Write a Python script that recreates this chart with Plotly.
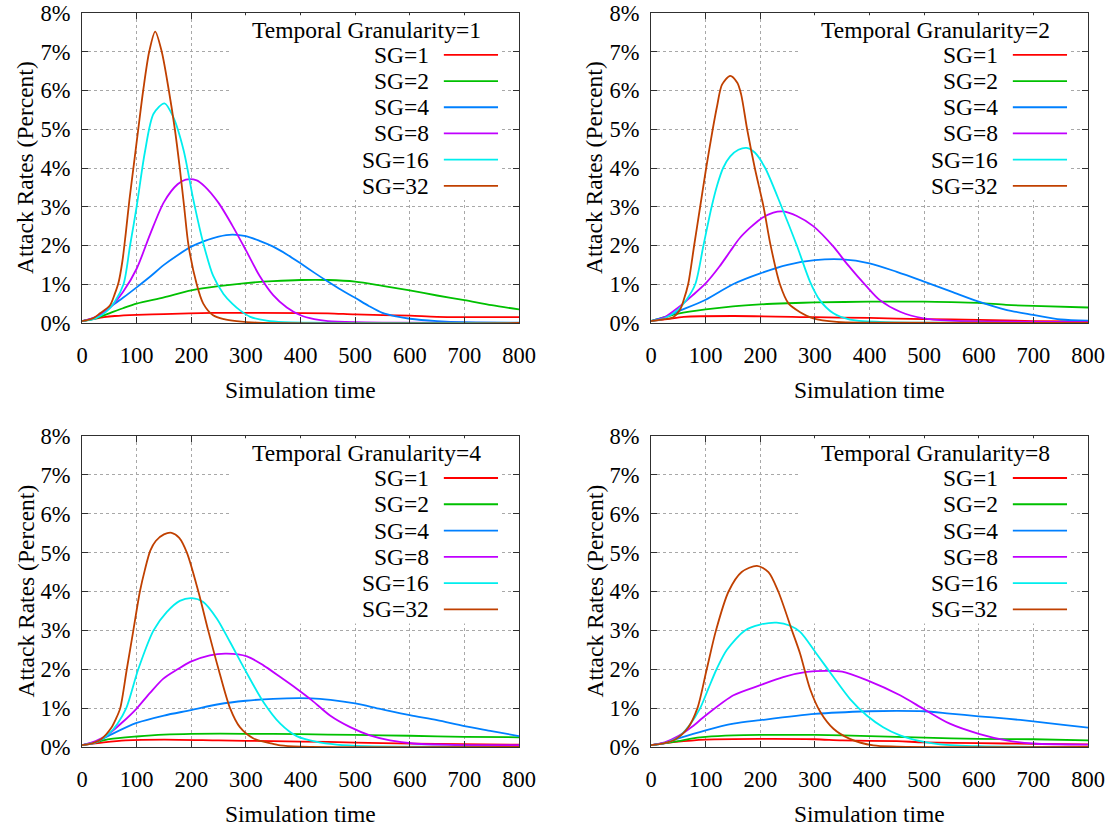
import plotly.graph_objects as go

# ---------------- data: attack rate (%) vs. simulation time ----------------
SG_LABELS = ["SG=1", "SG=2", "SG=4", "SG=8", "SG=16", "SG=32"]
SG_COLORS = ["#ff0000", "#00c000", "#0080ff", "#c000ff", "#00eeee", "#c04000"]
TG_TITLES = ["Temporal Granularity=1", "Temporal Granularity=2",
             "Temporal Granularity=4", "Temporal Granularity=8"]

# Temporal Granularity = 1
TG1_SG1_X = [0, 20, 40, 60, 100, 150, 240, 300, 450, 500, 600, 650, 800]
TG1_SG1_Y = [0.05, 0.10, 0.15, 0.18, 0.21, 0.23, 0.26, 0.26, 0.25, 0.22, 0.19, 0.16, 0.15]
TG1_SG2_X = [0, 25, 50, 75, 100, 150, 200, 250, 300, 350, 400, 450, 500, 550, 600, 650, 700, 750, 800]
TG1_SG2_Y = [0.05, 0.12, 0.25, 0.38, 0.50, 0.66, 0.84, 0.95, 1.03, 1.08, 1.11, 1.11, 1.07, 0.96, 0.84, 0.71, 0.59, 0.46, 0.35]
TG1_SG4_X = [0, 25, 50, 75, 100, 125, 150, 175, 200, 225, 250, 275, 300, 325, 350, 375, 400, 425, 450, 475, 500, 525, 550, 575, 600, 650, 700, 800]
TG1_SG4_Y = [0.05, 0.15, 0.40, 0.65, 0.92, 1.20, 1.50, 1.75, 1.97, 2.12, 2.23, 2.28, 2.24, 2.12, 1.97, 1.77, 1.54, 1.30, 1.07, 0.85, 0.65, 0.44, 0.26, 0.17, 0.11, 0.05, 0.02, 0.01]
TG1_SG8_X = [0, 25, 50, 75, 100, 125, 150, 175, 190, 210, 225, 250, 275, 300, 325, 350, 375, 400, 425, 450, 500, 550, 800]
TG1_SG8_Y = [0.05, 0.15, 0.38, 0.80, 1.40, 2.30, 3.12, 3.58, 3.70, 3.68, 3.52, 3.10, 2.52, 1.88, 1.22, 0.72, 0.40, 0.20, 0.10, 0.05, 0.02, 0.01, 0.0]
TG1_SG16_X = [0, 25, 45, 60, 76, 88, 100, 115, 131, 151, 167, 186, 204, 222, 240, 259, 275, 290, 308, 338, 370, 420, 500, 800]
TG1_SG16_Y = [0.05, 0.12, 0.30, 0.55, 1.00, 2.00, 3.00, 4.40, 5.40, 5.67, 5.32, 4.46, 3.17, 2.06, 1.22, 0.75, 0.50, 0.32, 0.16, 0.06, 0.02, 0.01, 0.0, 0.0]
TG1_SG32_X = [0, 20, 33, 51, 60, 67, 74, 80, 87, 95, 103, 112, 123, 134, 146, 159, 170, 179, 187, 195, 210, 222, 240, 260, 283, 320, 800]
TG1_SG32_Y = [0.05, 0.12, 0.25, 0.45, 0.75, 1.05, 1.60, 2.30, 3.20, 4.10, 5.00, 6.00, 7.00, 7.52, 7.00, 6.00, 5.00, 4.00, 3.00, 2.00, 1.00, 0.50, 0.20, 0.10, 0.05, 0.01, 0.0]

# Temporal Granularity = 2
TG2_SG1_X = [0, 30, 60, 150, 300, 400, 500, 600, 700, 800]
TG2_SG1_Y = [0.05, 0.10, 0.16, 0.18, 0.15, 0.13, 0.10, 0.08, 0.05, 0.04]
TG2_SG2_X = [0, 25, 50, 100, 150, 200, 250, 300, 400, 500, 550, 600, 650, 700, 800]
TG2_SG2_Y = [0.05, 0.15, 0.24, 0.35, 0.43, 0.48, 0.51, 0.53, 0.55, 0.55, 0.54, 0.52, 0.47, 0.44, 0.40]
TG2_SG4_X = [0, 25, 50, 100, 150, 200, 250, 300, 350, 400, 450, 500, 550, 600, 650, 700, 750, 800]
TG2_SG4_Y = [0.05, 0.15, 0.30, 0.60, 1.00, 1.28, 1.50, 1.62, 1.64, 1.54, 1.32, 1.07, 0.81, 0.55, 0.34, 0.21, 0.09, 0.06]
TG2_SG8_X = [0, 25, 50, 75, 100, 125, 145, 163, 200, 224, 242, 267, 297, 334, 358, 395, 419, 456, 499, 547, 600, 800]
TG2_SG8_Y = [0.05, 0.15, 0.40, 0.70, 1.02, 1.45, 1.85, 2.20, 2.68, 2.85, 2.88, 2.76, 2.50, 1.97, 1.54, 0.94, 0.59, 0.29, 0.12, 0.06, 0.04, 0.02]
TG2_SG16_X = [0, 25, 50, 65, 81, 96, 111, 121, 132, 145, 160, 175, 190, 209, 239, 267, 291, 309, 334, 364, 419, 500, 800]
TG2_SG16_Y = [0.05, 0.12, 0.35, 0.60, 1.00, 2.00, 3.00, 3.55, 4.00, 4.30, 4.47, 4.52, 4.40, 4.00, 3.00, 2.00, 1.07, 0.59, 0.25, 0.09, 0.03, 0.01, 0.0]
TG2_SG32_X = [0, 25, 41, 53, 60, 68, 79, 90, 101, 113, 121, 130, 145, 158, 165, 176, 190, 206, 219, 236, 252, 273, 297, 340, 400, 800]
TG2_SG32_Y = [0.05, 0.10, 0.15, 0.34, 0.60, 1.00, 2.00, 3.00, 4.00, 5.00, 5.60, 6.15, 6.38, 6.20, 5.90, 5.00, 4.00, 3.00, 2.00, 1.00, 0.50, 0.28, 0.12, 0.03, 0.01, 0.0]

# Temporal Granularity = 4
TG4_SG1_X = [0, 40, 80, 150, 250, 350, 450, 550, 650, 800]
TG4_SG1_Y = [0.05, 0.12, 0.17, 0.19, 0.17, 0.15, 0.13, 0.10, 0.08, 0.06]
TG4_SG2_X = [0, 25, 50, 100, 150, 200, 300, 400, 500, 600, 700, 800]
TG4_SG2_Y = [0.05, 0.12, 0.20, 0.27, 0.32, 0.34, 0.34, 0.33, 0.31, 0.29, 0.26, 0.25]
TG4_SG4_X = [0, 25, 50, 100, 150, 200, 250, 300, 350, 420, 455, 500, 546, 600, 650, 700, 750, 800]
TG4_SG4_Y = [0.05, 0.12, 0.30, 0.62, 0.81, 0.95, 1.10, 1.19, 1.24, 1.25, 1.21, 1.12, 0.98, 0.82, 0.69, 0.54, 0.41, 0.28]
TG4_SG8_X = [0, 25, 50, 75, 100, 125, 149, 175, 198, 234, 265, 302, 332, 363, 393, 421, 454, 491, 527, 564, 607, 700, 800]
TG4_SG8_Y = [0.05, 0.15, 0.35, 0.65, 0.99, 1.40, 1.76, 2.00, 2.19, 2.36, 2.40, 2.33, 2.10, 1.80, 1.50, 1.20, 0.81, 0.51, 0.30, 0.17, 0.09, 0.05, 0.05]
TG4_SG16_X = [0, 25, 50, 65, 81, 103, 131, 155, 179, 201, 222, 247, 271, 299, 332, 363, 393, 430, 466, 520, 600, 800]
TG4_SG16_Y = [0.05, 0.12, 0.35, 0.60, 1.00, 2.00, 3.00, 3.47, 3.76, 3.83, 3.73, 3.30, 2.70, 1.97, 1.16, 0.60, 0.28, 0.13, 0.06, 0.02, 0.01, 0.0]
TG4_SG32_X = [0, 20, 35, 54, 62, 70, 82, 94, 106, 115, 125, 135, 150, 164, 178, 192, 213, 231, 250, 271, 289, 314, 344, 363, 400, 800]
TG4_SG32_Y = [0.05, 0.10, 0.20, 0.50, 0.72, 1.00, 2.00, 3.00, 4.00, 4.55, 5.05, 5.30, 5.47, 5.51, 5.38, 5.00, 4.00, 3.00, 2.00, 1.00, 0.51, 0.22, 0.10, 0.04, 0.01, 0.0]

# Temporal Granularity = 8
TG8_SG1_X = [0, 45, 100, 200, 300, 350, 450, 500, 600, 700, 800]
TG8_SG1_Y = [0.05, 0.13, 0.19, 0.21, 0.20, 0.17, 0.15, 0.12, 0.10, 0.08, 0.07]
TG8_SG2_X = [0, 25, 50, 71, 100, 151, 200, 300, 400, 500, 600, 700, 800]
TG8_SG2_Y = [0.05, 0.10, 0.15, 0.21, 0.26, 0.30, 0.31, 0.31, 0.28, 0.24, 0.21, 0.20, 0.17]
TG8_SG4_X = [0, 25, 50, 100, 151, 200, 300, 400, 450, 500, 547, 600, 651, 700, 755, 800]
TG8_SG4_Y = [0.05, 0.10, 0.22, 0.43, 0.60, 0.69, 0.85, 0.92, 0.93, 0.92, 0.86, 0.79, 0.73, 0.66, 0.57, 0.50]
TG8_SG8_X = [0, 25, 50, 75, 100, 151, 200, 242, 285, 320, 350, 395, 456, 500, 547, 600, 651, 700, 800]
TG8_SG8_Y = [0.05, 0.12, 0.28, 0.52, 0.81, 1.33, 1.59, 1.80, 1.93, 1.96, 1.94, 1.72, 1.33, 0.97, 0.60, 0.34, 0.17, 0.09, 0.06]
TG8_SG16_X = [0, 25, 50, 70, 90, 105, 120, 139, 172, 200, 230, 255, 273, 303, 334, 364, 395, 425, 456, 493, 529, 600, 800]
TG8_SG16_Y = [0.05, 0.10, 0.25, 0.55, 1.00, 1.50, 2.00, 2.50, 3.00, 3.15, 3.20, 3.12, 2.96, 2.40, 1.80, 1.24, 0.81, 0.51, 0.30, 0.15, 0.07, 0.02, 0.0]
TG8_SG32_X = [0, 25, 45, 68, 85, 102, 119, 142, 166, 194, 215, 233, 258, 273, 291, 310, 334, 364, 407, 450, 800]
TG8_SG32_Y = [0.05, 0.10, 0.20, 0.50, 1.00, 2.00, 3.00, 4.00, 4.50, 4.66, 4.50, 4.00, 3.00, 2.40, 1.50, 0.90, 0.47, 0.21, 0.04, 0.01, 0.0]

PANELS = [
    [(TG1_SG1_X, TG1_SG1_Y), (TG1_SG2_X, TG1_SG2_Y), (TG1_SG4_X, TG1_SG4_Y),
     (TG1_SG8_X, TG1_SG8_Y), (TG1_SG16_X, TG1_SG16_Y), (TG1_SG32_X, TG1_SG32_Y)],
    [(TG2_SG1_X, TG2_SG1_Y), (TG2_SG2_X, TG2_SG2_Y), (TG2_SG4_X, TG2_SG4_Y),
     (TG2_SG8_X, TG2_SG8_Y), (TG2_SG16_X, TG2_SG16_Y), (TG2_SG32_X, TG2_SG32_Y)],
    [(TG4_SG1_X, TG4_SG1_Y), (TG4_SG2_X, TG4_SG2_Y), (TG4_SG4_X, TG4_SG4_Y),
     (TG4_SG8_X, TG4_SG8_Y), (TG4_SG16_X, TG4_SG16_Y), (TG4_SG32_X, TG4_SG32_Y)],
    [(TG8_SG1_X, TG8_SG1_Y), (TG8_SG2_X, TG8_SG2_Y), (TG8_SG4_X, TG8_SG4_Y),
     (TG8_SG8_X, TG8_SG8_Y), (TG8_SG16_X, TG8_SG16_Y), (TG8_SG32_X, TG8_SG32_Y)],
]

# ---------------- layout ----------------
W, H = 1112, 826
FONT = "Liberation Serif"
FS_TICK = 22.5
FS_TEXT = 23.5

# panel boxes in pixels (left, right, top, bottom)
BOXES = [(82, 519, 13, 323), (651, 1088, 13, 323),
         (82, 519, 436, 747), (651, 1088, 436, 747)]

fig = go.Figure()
layout = dict(width=W, height=H, margin=dict(l=0, r=0, t=0, b=0, autoexpand=False),
              paper_bgcolor="white", plot_bgcolor="white", showlegend=False,
              font=dict(family=FONT, size=FS_TEXT, color="black"))
shapes, annotations = [], []

for i, (series, box) in enumerate(zip(PANELS, BOXES)):
    n = i + 1
    xa = "x" if n == 1 else f"x{n}"
    ya = "y" if n == 1 else f"y{n}"
    xkey = "xaxis" if n == 1 else f"xaxis{n}"
    ykey = "yaxis" if n == 1 else f"yaxis{n}"
    l, r, t, b = box

    common = dict(showgrid=True, gridcolor="#a8a8a8", griddash="dot", gridwidth=1,
                  showline=True, linecolor="#303030", linewidth=1, mirror="ticks",
                  ticks="inside", ticklen=6, tickcolor="#303030", zeroline=False,
                  automargin=False,
                  tickfont=dict(family=FONT, size=FS_TICK, color="black"))
    layout[xkey] = dict(domain=[l / W, r / W], range=[0, 800], tick0=0, dtick=100,
                        anchor=ya, ticklabelstandoff=12, **common)
    layout[ykey] = dict(domain=[1 - b / H, 1 - t / H], range=[0, 8], tick0=0, dtick=1,
                        ticksuffix="%", anchor=xa, ticklabelstandoff=6, **common)

    for (xs, ys), name, color in zip(series, SG_LABELS, SG_COLORS):
        fig.add_trace(go.Scatter(x=xs, y=ys, mode="lines", name=name,
                                 line=dict(color=color, width=1.8, shape="spline", smoothing=0.8),
                                 xaxis=xa, yaxis=ya))

    xd, yd = f"{xa} domain", f"{ya} domain"
    # opaque key box over the grid (curves stay outside this region)
    shapes.append(dict(type="rect", xref=xd, yref=yd, x0=0.343, x1=0.955, y0=0.397, y1=0.993,
                       fillcolor="white", line=dict(width=0), layer="above"))
    annotations.append(dict(text=TG_TITLES[i], xref=xd, yref=yd, x=0.652, y=0.945,
                            xanchor="center", yanchor="middle", showarrow=False,
                            font=dict(family=FONT, size=FS_TEXT)))
    for k, (name, color) in enumerate(zip(SG_LABELS, SG_COLORS)):
        yy = 0.865 - k * 0.0845
        annotations.append(dict(text=name, xref=xd, yref=yd, x=0.799, y=yy,
                                xanchor="right", yanchor="middle", showarrow=False,
                                font=dict(family=FONT, size=FS_TEXT)))
        shapes.append(dict(type="line", xref=xd, yref=yd, x0=0.828, x1=0.952, y0=yy, y1=yy,
                           line=dict(color=color, width=1.8), layer="above"))

    # axis titles
    annotations.append(dict(text="Simulation time", xref="paper", yref="paper",
                            x=(l + r) / 2 / W, y=1 - (b + 67) / H,
                            xanchor="center", yanchor="middle", showarrow=False,
                            font=dict(family=FONT, size=FS_TEXT)))
    annotations.append(dict(text="Attack Rates (Percent)", xref="paper", yref="paper",
                            x=(l - 57) / W, y=1 - (t + b) / 2 / H, textangle=-90,
                            xanchor="center", yanchor="middle", showarrow=False,
                            font=dict(family=FONT, size=FS_TEXT)))

layout["shapes"] = shapes
layout["annotations"] = annotations
fig.update_layout(**layout)
fig.write_html("out.html")
